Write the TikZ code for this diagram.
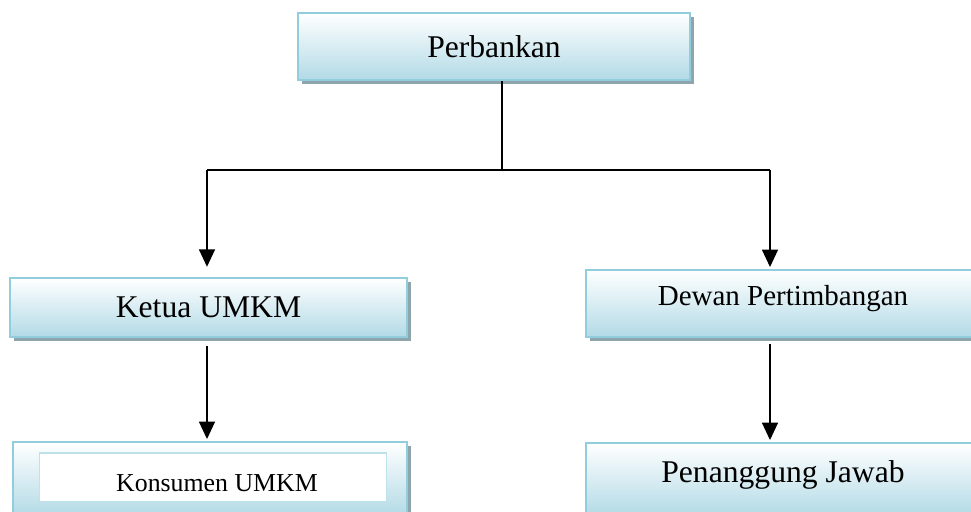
\documentclass[tikz,border=0pt]{standalone}
\usepackage{fontspec}
\setmainfont{Liberation Serif}
\usetikzlibrary{arrows.meta,shadows}
\definecolor{tepi}{RGB}{146,205,221}
\definecolor{isi}{RGB}{178,218,230}
\definecolor{bayang}{RGB}{143,165,172}

\begin{document}
\begin{tikzpicture}[
    x=0.02cm, y=-0.02cm,
    kotak/.style={draw=tepi, line width=1.3pt, top color=white, bottom color=isi, inner sep=0pt,
        drop shadow={shadow xshift=0.08cm, shadow yshift=-0.08cm, fill=bayang, opacity=1},
        font=\fontsize{18}{22}\selectfont},
    dalam/.style={draw=tepi!60, line width=0.8pt, fill=white, inner sep=0pt,
        font=\fontsize{14.7}{18}\selectfont},
    garis/.style={line width=1.3pt},
    panah/.style={garis, -{Triangle[width=9pt,length=10pt]}}
]
\useasboundingbox (0,0) rectangle (971,511);

% kotak
\node[kotak, minimum width=7.84cm, minimum height=1.34cm] (bank) at (494,46.5) {Perbankan};
\node[kotak, minimum width=7.94cm, minimum height=1.18cm] (ketua) at (208.5,307.5) {Ketua UMKM};
\node[kotak, minimum width=7.88cm, minimum height=1.48cm] (konsumen) at (210,479) {};
\node[dalam, minimum width=6.94cm, minimum height=0.98cm, text height=16pt, text depth=0pt]
    (konsumenteks) at (213,477.5) {\hspace*{0.16cm}Konsumen UMKM};
\node[kotak, minimum width=8.08cm, minimum height=1.34cm, font=\fontsize{16.5}{20}\selectfont, text depth=9pt]
    (dewan) at (788,303.5) {Dewan Pertimbangan\hspace*{0.2cm}};
\node[kotak, minimum width=8.08cm, minimum height=1.46cm, text depth=9pt]
    (pj) at (788,479.5) {Penanggung Jawab\hspace*{0.2cm}};

\coordinate (cabang) at (502,170);
\coordinate (kiri) at (207,170);
\coordinate (kanan) at (770,170);

% garis penghubung
\draw[garis] (cabang |- bank.south) -- (cabang);
\draw[garis] (kiri) -- (kanan);
\draw[panah, shorten >=0.2cm] (kiri) -- (kiri |- ketua.north);
\draw[panah, shorten >=1pt] (kanan) -- (kanan |- dewan.north);
\draw[panah, shorten <=0.16cm, shorten >=1pt] (kiri |- ketua.south) -- (kiri |- konsumen.north);
\draw[panah, shorten <=0.12cm, shorten >=1pt] (kanan |- dewan.south) -- (kanan |- pj.north);

\end{tikzpicture}
\end{document}
